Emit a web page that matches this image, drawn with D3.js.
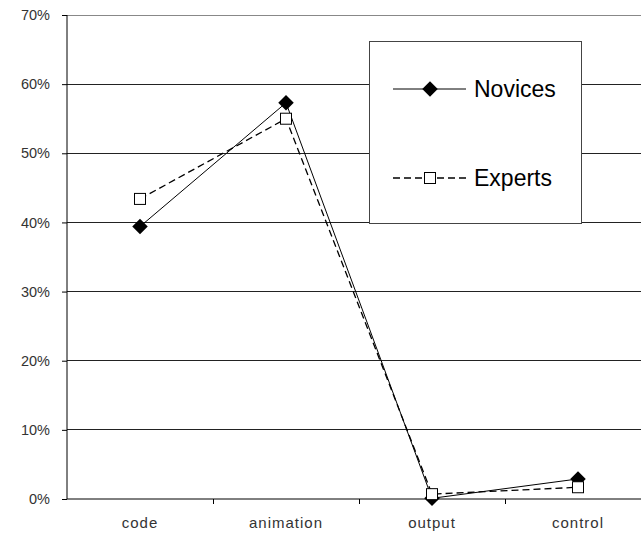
<!DOCTYPE html>
<html><head><meta charset="utf-8">
<script src="https://cdn.jsdelivr.net/npm/d3@7/dist/d3.min.js"></script>
<style>body{margin:0;background:#fff}svg{display:block}</style>
</head><body>
<svg id="c" width="641" height="537"></svg>
<script>
const categories = ["code", "animation", "output", "control"];
const novices = [0.394, 0.573, 0.001, 0.029];
const experts = [0.434, 0.550, 0.007, 0.017];
const yTicks = [0, 0.1, 0.2, 0.3, 0.4, 0.5, 0.6, 0.7];
const seriesNames = ["Novices", "Experts"];

const svg = d3.select("#c");
const font = "'Liberation Sans', Arial, sans-serif";
const x = d3.scaleBand().domain(categories).range([67, 651]);
const y = d3.scaleLinear().domain([0, 0.7]).range([499, 15]);

// gridlines
svg.append("g").selectAll("line").data(yTicks.slice(1)).join("line")
  .attr("x1", 67).attr("x2", 641).attr("y1", d => y(d)).attr("y2", d => y(d))
  .attr("stroke", d => d === 0.7 ? "#888" : "#222").attr("stroke-width", 1).attr("shape-rendering", "crispEdges");

// y axis
const ya = svg.append("g").attr("transform", "translate(67,0)")
  .call(d3.axisLeft(y).tickValues(yTicks).tickFormat(d3.format(".0%")).tickSize(5).tickPadding(12));
ya.select(".domain").attr("stroke", "#000").attr("d", `M0,${y(0.7)}V${y(0)}`);
ya.selectAll(".tick line").attr("stroke", "#000");
ya.selectAll("text").attr("font-family", font).attr("font-size", 14.5).attr("fill", "#333");

// x axis
const xa = svg.append("g").attr("transform", `translate(0,${y(0)})`)
  .call(d3.axisBottom(x).tickSize(0).tickPadding(18));
xa.select(".domain").attr("stroke", "#000").attr("d", `M67,0H641`);
xa.selectAll("text").attr("font-family", font).attr("font-size", 15).attr("letter-spacing", "1px").attr("fill", "#333");
// band boundary ticks
svg.append("g").selectAll("line").data(categories.slice(1)).join("line")
  .attr("x1", d => x(d)).attr("x2", d => x(d)).attr("y1", y(0)).attr("y2", y(0) + 5)
  .attr("stroke", "#000").attr("shape-rendering", "crispEdges");

const cx = d => x(d) + x.bandwidth() / 2;
const line = d3.line().x((d, i) => cx(categories[i])).y(d => y(d));

// experts dashed
svg.append("path").datum(experts).attr("d", line).attr("fill", "none")
  .attr("stroke", "#000").attr("stroke-width", 1.3).attr("stroke-dasharray", "7,4");
// novices solid
svg.append("path").datum(novices).attr("d", line).attr("fill", "none")
  .attr("stroke", "#000").attr("stroke-width", 1);

const diamond = d3.symbol().type(d3.symbolSquare).size(120);
svg.append("g").selectAll("path").data(novices).join("path")
  .attr("d", diamond())
  .attr("transform", (d, i) => `translate(${cx(categories[i])},${y(d)}) rotate(45)`)
  .attr("fill", "#000");
svg.append("g").selectAll("rect").data(experts).join("rect")
  .attr("x", (d, i) => cx(categories[i]) - 5.5).attr("y", d => y(d) - 5.5)
  .attr("width", 11).attr("height", 11).attr("fill", "#fff").attr("stroke", "#000").attr("stroke-width", 1);

// legend
const lg = svg.append("g");
lg.append("rect").attr("x", 369.5).attr("y", 41.5).attr("width", 212).attr("height", 182)
  .attr("fill", "#fff").attr("stroke", "#444").attr("stroke-width", 1);
const rows = [89, 178];
seriesNames.forEach((name, i) => {
  const ry = rows[i];
  lg.append("line").attr("x1", 393).attr("x2", 466).attr("y1", ry).attr("y2", ry)
    .attr("stroke", "#000").attr("stroke-width", i ? 1.5 : 1).attr("stroke-dasharray", i ? "7,4" : null);
  if (i === 0) {
    lg.append("path").attr("d", diamond()).attr("transform", `translate(430,${ry}) rotate(45)`).attr("fill", "#000");
  } else {
    lg.append("rect").attr("x", 424.5).attr("y", ry - 5.5).attr("width", 11).attr("height", 11)
      .attr("fill", "#fff").attr("stroke", "#000");
  }
  lg.append("text").attr("x", 474).attr("y", ry + 8).text(name)
    .attr("font-family", font).attr("font-size", 23).attr("fill", "#000");
});
</script>
</body></html>
